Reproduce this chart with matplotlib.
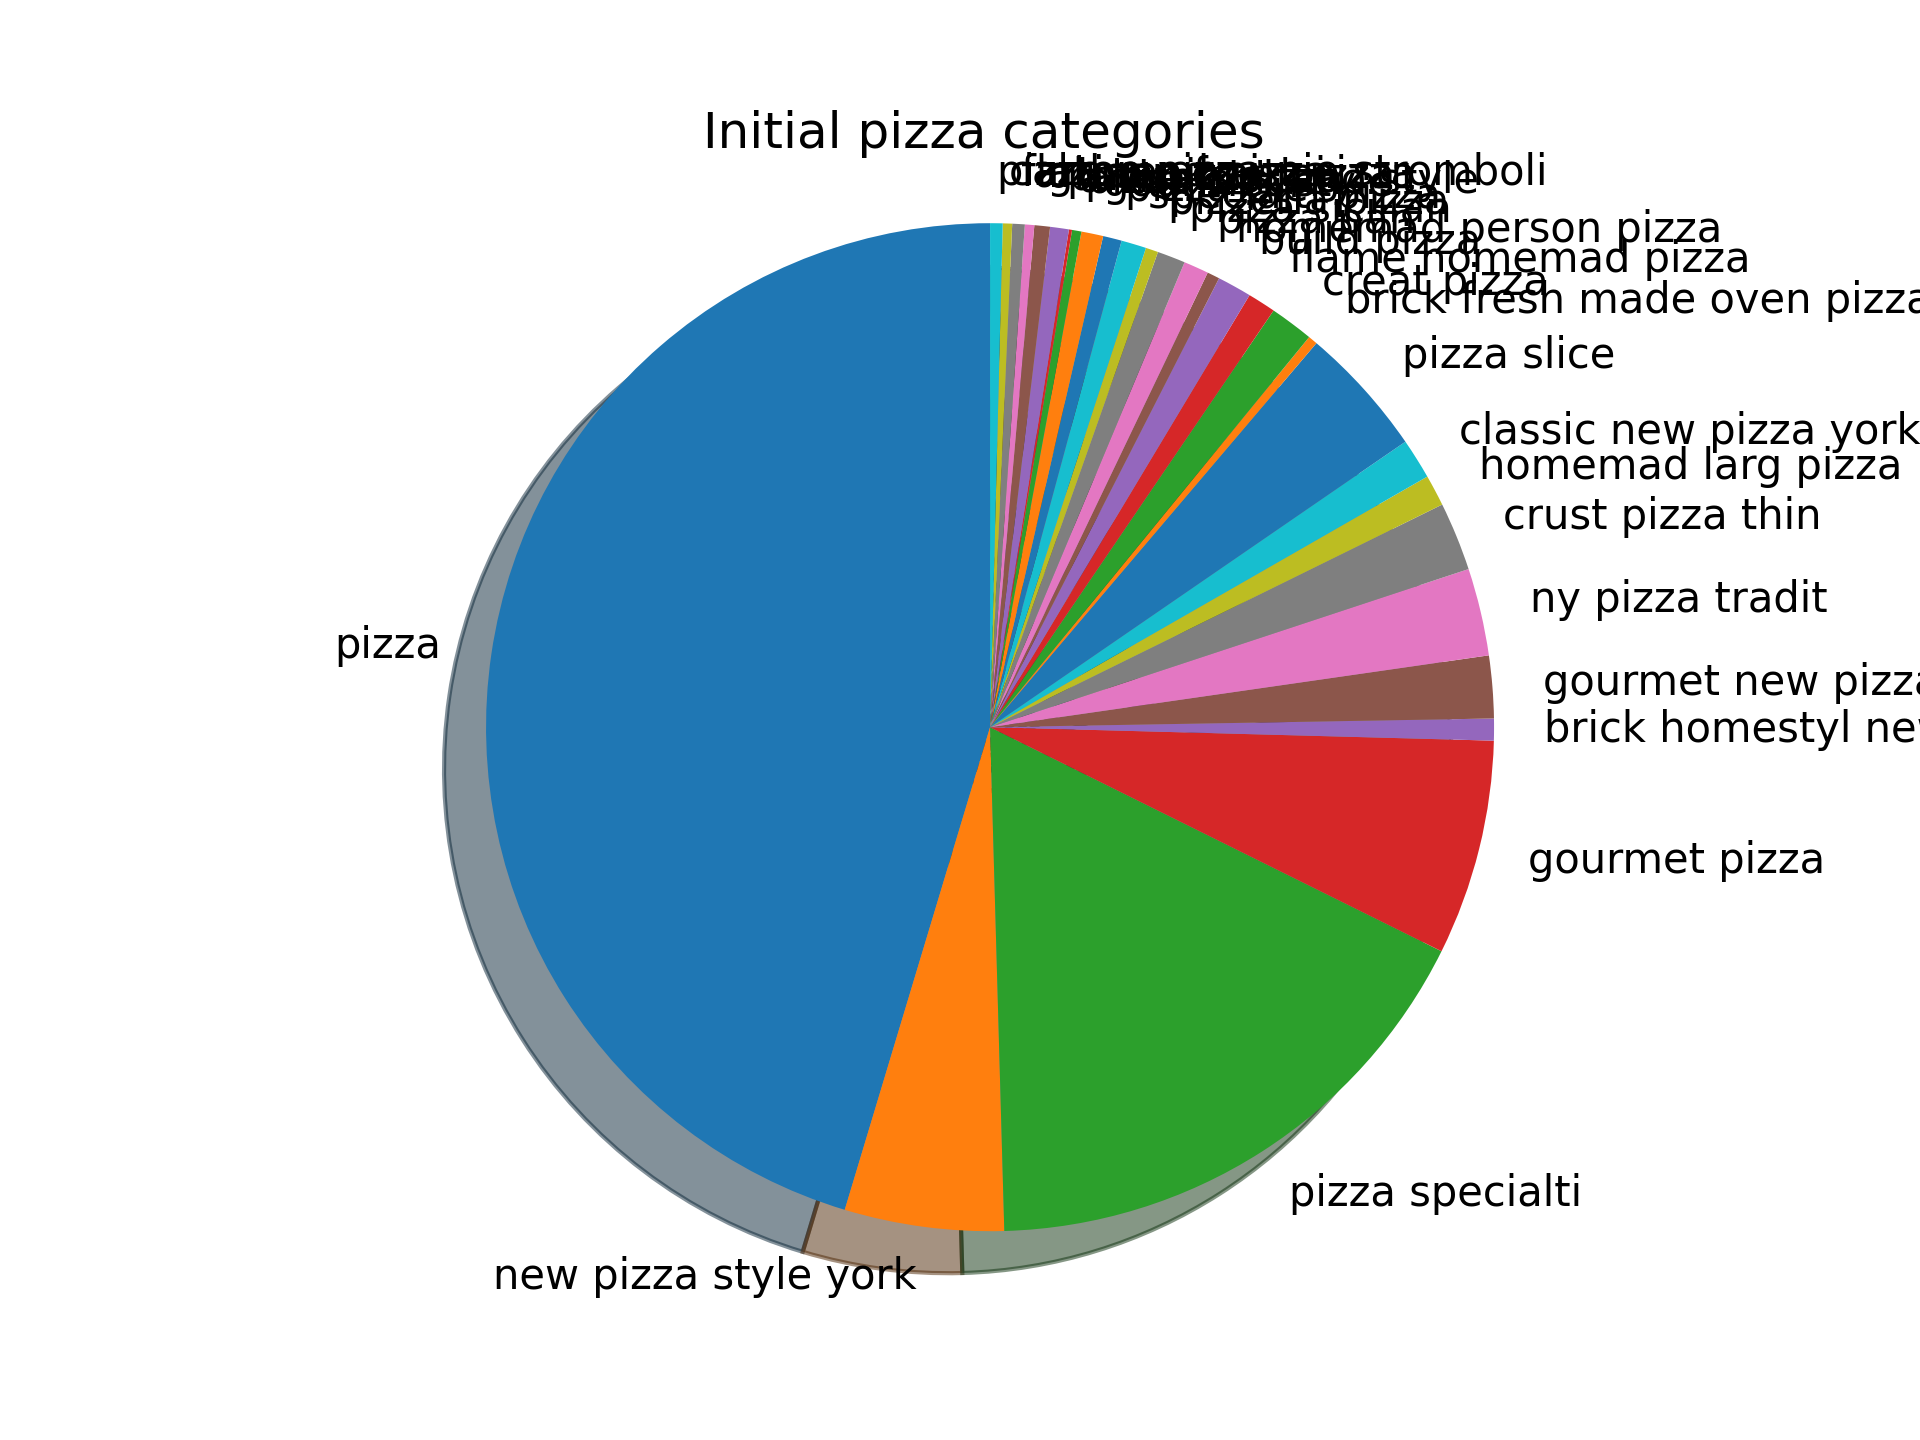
import matplotlib
matplotlib.use("Agg")
import matplotlib.pyplot as plt

categories = [
    "pizza", "new pizza style york", "pizza specialti", "gourmet pizza",
    "brick homestyl new pizza york", "gourmet new pizza york", "ny pizza tradit",
    "crust pizza thin", "homemad larg pizza", "classic new pizza york",
    "pizza slice", "brick fresh made oven pizza", "creat pizza",
    "flame homemad pizza", "build pizza", "homemad person pizza",
    "pizza pan", "pizza sicilian", "pizzeria pizza", "specialti pizza",
    "pizza pie", "gourmet style", "pizza chicago style", "artisan pizza",
    "pan pizza", "gluten free pizza", "artisan crust pizza", "flatbread pizza",
    "calzon pizza pie stromboli", "pizza oven",
]
counts = [
    453, 51, 172, 69, 7, 20, 28, 22, 10, 13,
    42, 3, 14, 9, 11, 4, 8, 9, 4, 8,
    6, 7, 3, 1, 6, 5, 3, 4, 3, 4,
]

fig, ax = plt.subplots(figsize=(6.4, 4.8), dpi=300)
ax.pie(counts, labels=categories, shadow=True, startangle=90)
ax.set_aspect("equal", adjustable="datalim")
half_w = 1.1 * (0.775 * 1920) / (0.77 * 1440)
ax.set_ylim(-1.1, 1.1)
ax.set_xlim(-half_w - 0.012, half_w - 0.012)
ax.set_title("Initial pizza categories")
fig.savefig("out.png", dpi=300)
